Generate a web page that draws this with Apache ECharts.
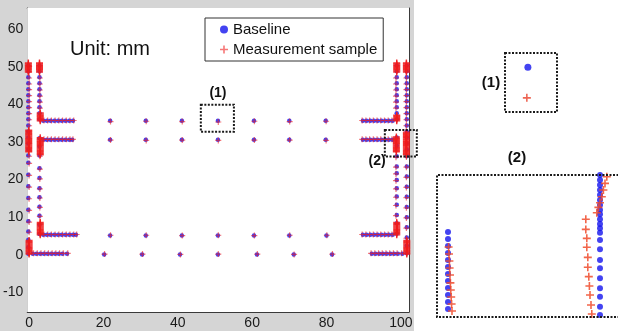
<!DOCTYPE html>
<html><head><meta charset="utf-8">
<script src="https://cdn.jsdelivr.net/npm/echarts@6/dist/echarts.min.js"></script>
<style>html,body{margin:0;padding:0;background:#fff}#c{width:618px;height:335px}</style>
</head><body><div id="c"></div>
<script>
// ---------------- data ----------------
const xTicks = [0, 20, 40, 60, 80, 100];
const yTicks = [-10, 0, 10, 20, 30, 40, 50, 60];
const legendNames = ['Baseline', 'Measurement sample'];
const unitText = 'Unit: mm';

// baseline columns: [x, [y...]]
const baseColumns = [
  [-0.2, [50.3,48.8,47.2,45.6,44.0,42.4,40.8,39.2,37.6,36.0,34.4,32.8,31.2,29.6,28.0,26.4,24.5,21.3,18.2,15.1,12.0,8.9,6.2,4.0,2.0,0.3]],
  [2.8,  [50.3,48.8,47.2,45.6,44.0,42.4,40.8,39.2,37.6,36.0,31.0,28.8,26.4,23.0,20.4,17.7,15.3,12.8,10.4,8.0,5.5]],
  [98.9, [50.3,48.8,47.2,45.6,44.0,42.4,40.8,39.2,37.6,36.0,31.2,29.0,26.2,23.5,21.7,19.9,17.7,15.5,13.3,10.6,8.4,5.6]],
  [101.6,[50.3,48.8,47.2,45.6,44.0,42.4,40.8,39.2,37.6,36.0,34.4,32.8,31.2,29.6,28.0,26.2,23.5,20.8,18.1,15.4,12.7,10.0,7.3,4.6,2.4,0.4]]
];
// baseline arms: [y, [x...]]
const baseArms = [
  [35.6, [3.8,4.8,5.8,6.8,7.8,8.8,9.8,10.8,11.8]],
  [30.6, [3.8,4.8,5.8,6.8,7.8,8.8,9.8,10.8,11.6]],
  [5.3,  [3.8,4.8,5.8,6.8,7.8,8.8,9.8,10.8,11.8,12.6]],
  [0.3,  [1.0,2.0,3.0,4.0,5.0,6.0,7.0,8.0,9.0,10.2]],
  [35.6, [89.8,90.8,91.8,92.8,93.8,94.8,95.8,96.8,97.8]],
  [30.6, [89.8,90.8,91.8,92.8,93.8,94.8,95.8,96.8,97.8]],
  [5.3,  [89.8,90.8,91.8,92.8,93.8,94.8,95.8,96.8,97.8]],
  [0.3,  [92.2,93.2,94.2,95.2,96.2,97.2,98.2,99.2,100.4]]
];
// baseline isolated points
const baseGrid = [
  [21.8,35.6],[31.4,35.6],[41.1,35.6],[50.8,35.6],[60.5,35.6],[70.0,35.6],[79.8,35.6],
  [21.8,30.6],[31.4,30.6],[41.1,30.6],[50.8,30.6],[60.5,30.6],[70.0,30.6],[79.8,30.6],
  [21.8,5.1],[31.4,5.1],[41.1,5.1],[50.8,5.1],[60.5,5.1],[70.0,5.1],[80.0,5.1],
  [20.2,0.1],[30.4,0.1],[40.6,0.1],[50.8,0.1],[61.3,0.1],[71.2,0.1],[81.5,0.1]
];

// measurement columns: [x, [y...]]
const measColumns = [
  [0.0,  [50.1,48.6,47.0,45.4,43.9,42.3,40.7,39.1,37.5,35.9,34.3,26.2,24.3,21.1,18.0,14.9,11.8,8.7,6.0]],
  [2.9,  [47.0,45.4,43.8,42.2,40.6,39.0,26.2,22.8,20.2,17.5,15.1,12.6,10.2]],
  [98.7, [47.0,45.4,43.8,42.2,40.6,39.0,25.9,23.3,21.5,19.7,17.5,15.3,13.1,10.4]],
  [101.5,[47.0,45.4,43.9,42.3,40.7,39.1,37.5,35.9,34.3,26.0,23.3,20.6,17.9,15.2,12.5,9.8,7.1,4.4]]
];
const measArms = [
  [35.7, [4.0,5.0,6.0,7.0,8.0,9.0,10.0,11.0,12.0]],
  [30.7, [4.0,5.0,6.0,7.0,8.0,9.0,10.0,11.0,11.8]],
  [5.4,  [4.0,5.0,6.0,7.0,8.0,9.0,10.0,11.0,12.0,12.8]],
  [0.4,  [1.2,2.2,3.2,4.2,5.2,6.2,7.2,8.2,9.2,10.4]],
  [35.7, [89.6,90.6,91.6,92.6,93.6,94.6,95.6,96.6,97.6]],
  [30.7, [89.6,90.6,91.6,92.6,93.6,94.6,95.6,96.6,97.6]],
  [5.4,  [89.6,90.6,91.6,92.6,93.6,94.6,95.6,96.6,97.6]],
  [0.4,  [92.0,93.0,94.0,95.0,96.0,97.0,98.0,99.0,100.2]]
];
const measGrid = [
  [21.9,35.4],[31.5,35.5],[41.2,35.4],[50.9,35.3],[60.6,35.5],[70.1,35.4],[79.9,35.5],
  [21.9,30.5],[31.5,30.4],[41.2,30.5],[50.9,30.4],[60.6,30.5],[70.1,30.5],[79.9,30.4],
  [21.9,5.2],[31.5,5.2],[41.2,5.1],[50.9,5.2],[60.6,5.1],[70.1,5.2],[80.1,5.2],
  [20.3,0.2],[30.5,0.2],[40.7,0.1],[50.9,0.2],[61.4,0.2],[71.3,0.1],[81.6,0.2]
];
// dense measurement clusters: [x, [y...]]
const measClusters = [
  [-0.2, [48.6,48.9,49.2,49.5,49.8,50.1,50.4,50.7,51.0]],
  [2.8,  [48.6,48.9,49.2,49.5,49.8,50.1,50.4,50.7,51.0]],
  [3.0,  [35.6,35.9,36.2,36.5,36.8,37.1,37.4,37.7]],
  [-0.1, [27.4,27.7,28.0,28.3,28.6,28.9,29.2,29.5,29.8,30.1,30.4,30.7,31.0,31.3,31.6,31.9,32.2,32.5,32.8,33.1]],
  [3.0,  [26.6,26.9,27.2,27.5,27.8,28.1,28.4,28.7,29.0,29.3,29.6,29.9,30.2,30.5,30.8,31.1]],
  [3.0,  [5.3,5.6,5.9,6.2,6.5,6.8,7.1,7.4,7.7,8.0,8.3,8.6]],
  [0.0,  [0.2,0.5,0.8,1.1,1.4,1.7,2.0,2.3,2.6,2.9,3.2,3.5,3.8]],
  [98.9, [48.6,48.9,49.2,49.5,49.8,50.1,50.4,50.7,51.0]],
  [101.5,[48.6,48.9,49.2,49.5,49.8,50.1,50.4,50.7,51.0]],
  [98.9, [35.6,35.9,36.2,36.5,36.8,37.1]],
  [98.8, [27.4,27.7,28.0,28.3,28.6,28.9,29.2,29.5,29.8,30.1,30.4,30.7,31.0,31.3]],
  [101.5,[26.6,26.9,27.2,27.5,27.8,28.1,28.4,28.7,29.0,29.3,29.6,29.9,30.2,30.5,30.8,31.1,31.4,31.7,32.0,32.3,32.6]],
  [98.9, [5.3,5.6,5.9,6.2,6.5,6.8,7.1,7.4,7.7,8.0,8.3,8.6]],
  [101.6,[0.2,0.5,0.8,1.1,1.4,1.7,2.0,2.3,2.6,2.9,3.2,3.5,3.8]]
];

// zoom boxes in main-axis data units: [x0, y0, x1, y1] and their labels
const zoomBoxes = [[46.2, 32.7, 55.1, 39.9], [95.7, 26.1, 104.3, 33.2]];
const zoomLabels = [['(1)', 50.8, 43.1], ['(2)', 93.6, 25.0]];

// inset (1) values (local units 0..10)
const inset1Base = [[4.4, 7.6]];
const inset1Meas = [[4.2, 2.4]];
// inset (2) values (local units 0..100)
const inset2BaseCols = [
  [5.5,  [59.9,54.9,50.0,45.1,40.1,35.2,30.3,25.4,20.4,15.5,10.6,5.6]],
  [81.5, [100,96.5,93.0,89.4,85.9,82.4,78.9,75.4,72.3,68.8,65.5,62.5,59.4,54.2,47.7,40.1,34.3,27.3,20.2,14.3,7.3,1.4]]
];
const inset2Meas = [
  [5.8,49.3],[6.0,44.4],[6.2,39.4],[6.3,34.5],[6.5,29.6],[6.7,24.0],[6.9,19.0],[7.1,14.1],[7.3,9.2],[7.5,4.2],
  [84.9,98.8],[84.0,94.1],[83.2,89.4],[82.4,84.7],[81.5,80.5],[80.7,77.2],[79.9,73.4],
  [74.4,68.8],[74.4,61.7],[74.9,55.4],[74.9,49.1],[75.4,42.0],[75.4,35.0],[75.9,28.4],[76.2,21.8],[76.5,15.5],[77.0,8.5],[77.4,2.1]
];

// ---------------- build ----------------
function fromColumns(cols){ const out=[]; cols.forEach(([x,ys])=>ys.forEach(y=>out.push([x,y]))); return out; }
function fromArms(arms){ const out=[]; arms.forEach(([y,xs])=>xs.forEach(x=>out.push([x,y]))); return out; }

const baselineData = fromColumns(baseColumns).concat(fromArms(baseArms), baseGrid);
const measurementData = fromColumns(measColumns).concat(fromArms(measArms), measGrid);
const clusterData = fromColumns(measClusters);
const inset2BaseData = fromColumns(inset2BaseCols);

const PLUS = 'path://M4,0H6V4H10V6H6V10H4V6H0V4H4Z';
const BLUE = '#1414ee';
const RED = '#f01c1c';
const FONT = '"Liberation Sans", Arial, sans-serif';
const AX = '#3a3a3a';

const chart = echarts.init(document.getElementById('c'), null, {renderer:'canvas'});

function mainAxis(pos, labels, ticks, min, max){
  return {
    type:'value', gridIndex:0, position:pos, min:min, max:max,
    splitLine:{show:false},
    axisLine:{show:true, onZero:false, lineStyle:{color:AX, width:1}},
    axisTick:{show:true, inside:true, length:4, customValues:ticks, lineStyle:{color:AX}},
    axisLabel:{show:labels, customValues:ticks, margin:4, fontSize:14, color:'#1a1a1a', fontFamily:FONT}
  };
}
function hiddenAxis(grid, min, max){
  return {type:'value', gridIndex:grid, min:min, max:max, show:false, splitLine:{show:false}};
}

chart.setOption({
  animation:false,
  backgroundColor:'#ffffff',
  grid:[
    {left:27, top:8, width:382, height:304, show:true, backgroundColor:'#ffffff', borderWidth:0, z:1},
    {left:505, top:53, width:52, height:59, show:false},
    {left:437, top:175, width:181, height:142, show:false}
  ],
  xAxis:[
    mainAxis('bottom', true, xTicks, -0.5, 102.2),
    mainAxis('top', false, xTicks, -0.5, 102.2),
    hiddenAxis(1, 0, 10),
    hiddenAxis(2, 0, 90.5)
  ],
  yAxis:[
    mainAxis('left', true, yTicks, -15.2, 65.6),
    mainAxis('right', false, yTicks, -15.2, 65.6),
    hiddenAxis(1, 0, 10),
    hiddenAxis(2, 0, 100)
  ],
  legend:{
    left:205, top:18, orient:'vertical',
    data:[{name:legendNames[0], icon:'circle'}, {name:legendNames[1], icon:PLUS}],
    itemWidth:8, itemHeight:8, itemGap:5,
    padding:[4,6,4,15],
    borderColor:'#333', borderWidth:1, backgroundColor:'#fff',
    textStyle:{fontSize:15, color:'#111', fontFamily:FONT},
    selectedMode:false
  },
  series:[
    {name:legendNames[0], type:'scatter', xAxisIndex:0, yAxisIndex:0, data:baselineData,
     symbol:'circle', symbolSize:4.5, itemStyle:{color:BLUE}, z:2},
    {name:legendNames[1], type:'scatter', xAxisIndex:0, yAxisIndex:0, data:measurementData,
     symbol:PLUS, symbolSize:6, itemStyle:{color:RED, opacity:0.6}, z:3},
    {name:legendNames[1], type:'scatter', xAxisIndex:0, yAxisIndex:0, data:clusterData,
     symbol:PLUS, symbolSize:7, itemStyle:{color:RED, opacity:0.9}, z:4},
    {name:'inset1-base', type:'scatter', xAxisIndex:2, yAxisIndex:2, data:inset1Base,
     symbol:'circle', symbolSize:7, itemStyle:{color:BLUE}},
    {name:'inset1-meas', type:'scatter', xAxisIndex:2, yAxisIndex:2, data:inset1Meas,
     symbol:PLUS, symbolSize:8, itemStyle:{color:'#e8402a'}},
    {name:'inset2-base', type:'scatter', xAxisIndex:3, yAxisIndex:3, data:inset2BaseData,
     symbol:'circle', symbolSize:6, itemStyle:{color:BLUE}},
    {name:'inset2-meas', type:'scatter', xAxisIndex:3, yAxisIndex:3, data:inset2Meas,
     symbol:PLUS, symbolSize:8, itemStyle:{color:'#f04a2a', opacity:0.85}}
  ]
});

// --------- annotations (boxes & labels) positioned through the axes ---------
const graphics = [];
graphics.push({type:'rect', z:-10, shape:{x:0, y:0, width:414, height:331}, style:{fill:'#d5d5d5'}, silent:true});
const dotted = {fill:'none', stroke:'#1a1a1a', lineWidth:2, lineDash:[2,1.5]};
zoomBoxes.forEach(b=>{
  const p0 = chart.convertToPixel({xAxisIndex:0, yAxisIndex:0}, [b[0], b[3]]);
  const p1 = chart.convertToPixel({xAxisIndex:0, yAxisIndex:0}, [b[2], b[1]]);
  graphics.push({type:'rect', z:100, shape:{x:p0[0], y:p0[1], width:p1[0]-p0[0], height:p1[1]-p0[1]}, style:dotted, silent:true});
});
zoomLabels.forEach(l=>{
  const p = chart.convertToPixel({xAxisIndex:0, yAxisIndex:0}, [l[1], l[2]]);
  graphics.push({type:'text', z:100, x:p[0], y:p[1], style:{text:l[0], font:'bold 14px '+FONT, fill:'#111', textAlign:'center', textVerticalAlign:'middle'}});
});
// inset (1): closed dotted frame
(function(){
  const p0 = chart.convertToPixel({xAxisIndex:2, yAxisIndex:2}, [0, 10]);
  const p1 = chart.convertToPixel({xAxisIndex:2, yAxisIndex:2}, [10, 0]);
  graphics.push({type:'rect', z:100, shape:{x:p0[0], y:p0[1], width:p1[0]-p0[0], height:p1[1]-p0[1]}, style:dotted, silent:true});
})();
// inset (2): frame runs off the right edge of the picture
(function(){
  const tl = chart.convertToPixel({xAxisIndex:3, yAxisIndex:3}, [0, 100]);
  const br = chart.convertToPixel({xAxisIndex:3, yAxisIndex:3}, [0, 0]);
  const xr = tl[0] + 220;
  graphics.push({type:'polyline', z:100, shape:{points:[[xr, tl[1]], [tl[0], tl[1]], [br[0], br[1]], [xr, br[1]]]}, style:dotted, silent:true});
})();
graphics.push({type:'text', z:100, x:491, y:83, style:{text:'(1)', font:'bold 15px '+FONT, fill:'#111', textAlign:'center', textVerticalAlign:'middle'}});
graphics.push({type:'text', z:100, x:517, y:158, style:{text:'(2)', font:'bold 15px '+FONT, fill:'#111', textAlign:'center', textVerticalAlign:'middle'}});
graphics.push({type:'text', z:100, x:70, y:49, style:{text:unitText, font:'20px '+FONT, fill:'#111', textVerticalAlign:'middle'}});
chart.setOption({graphic:{elements:graphics}});
</script>
</body></html>
